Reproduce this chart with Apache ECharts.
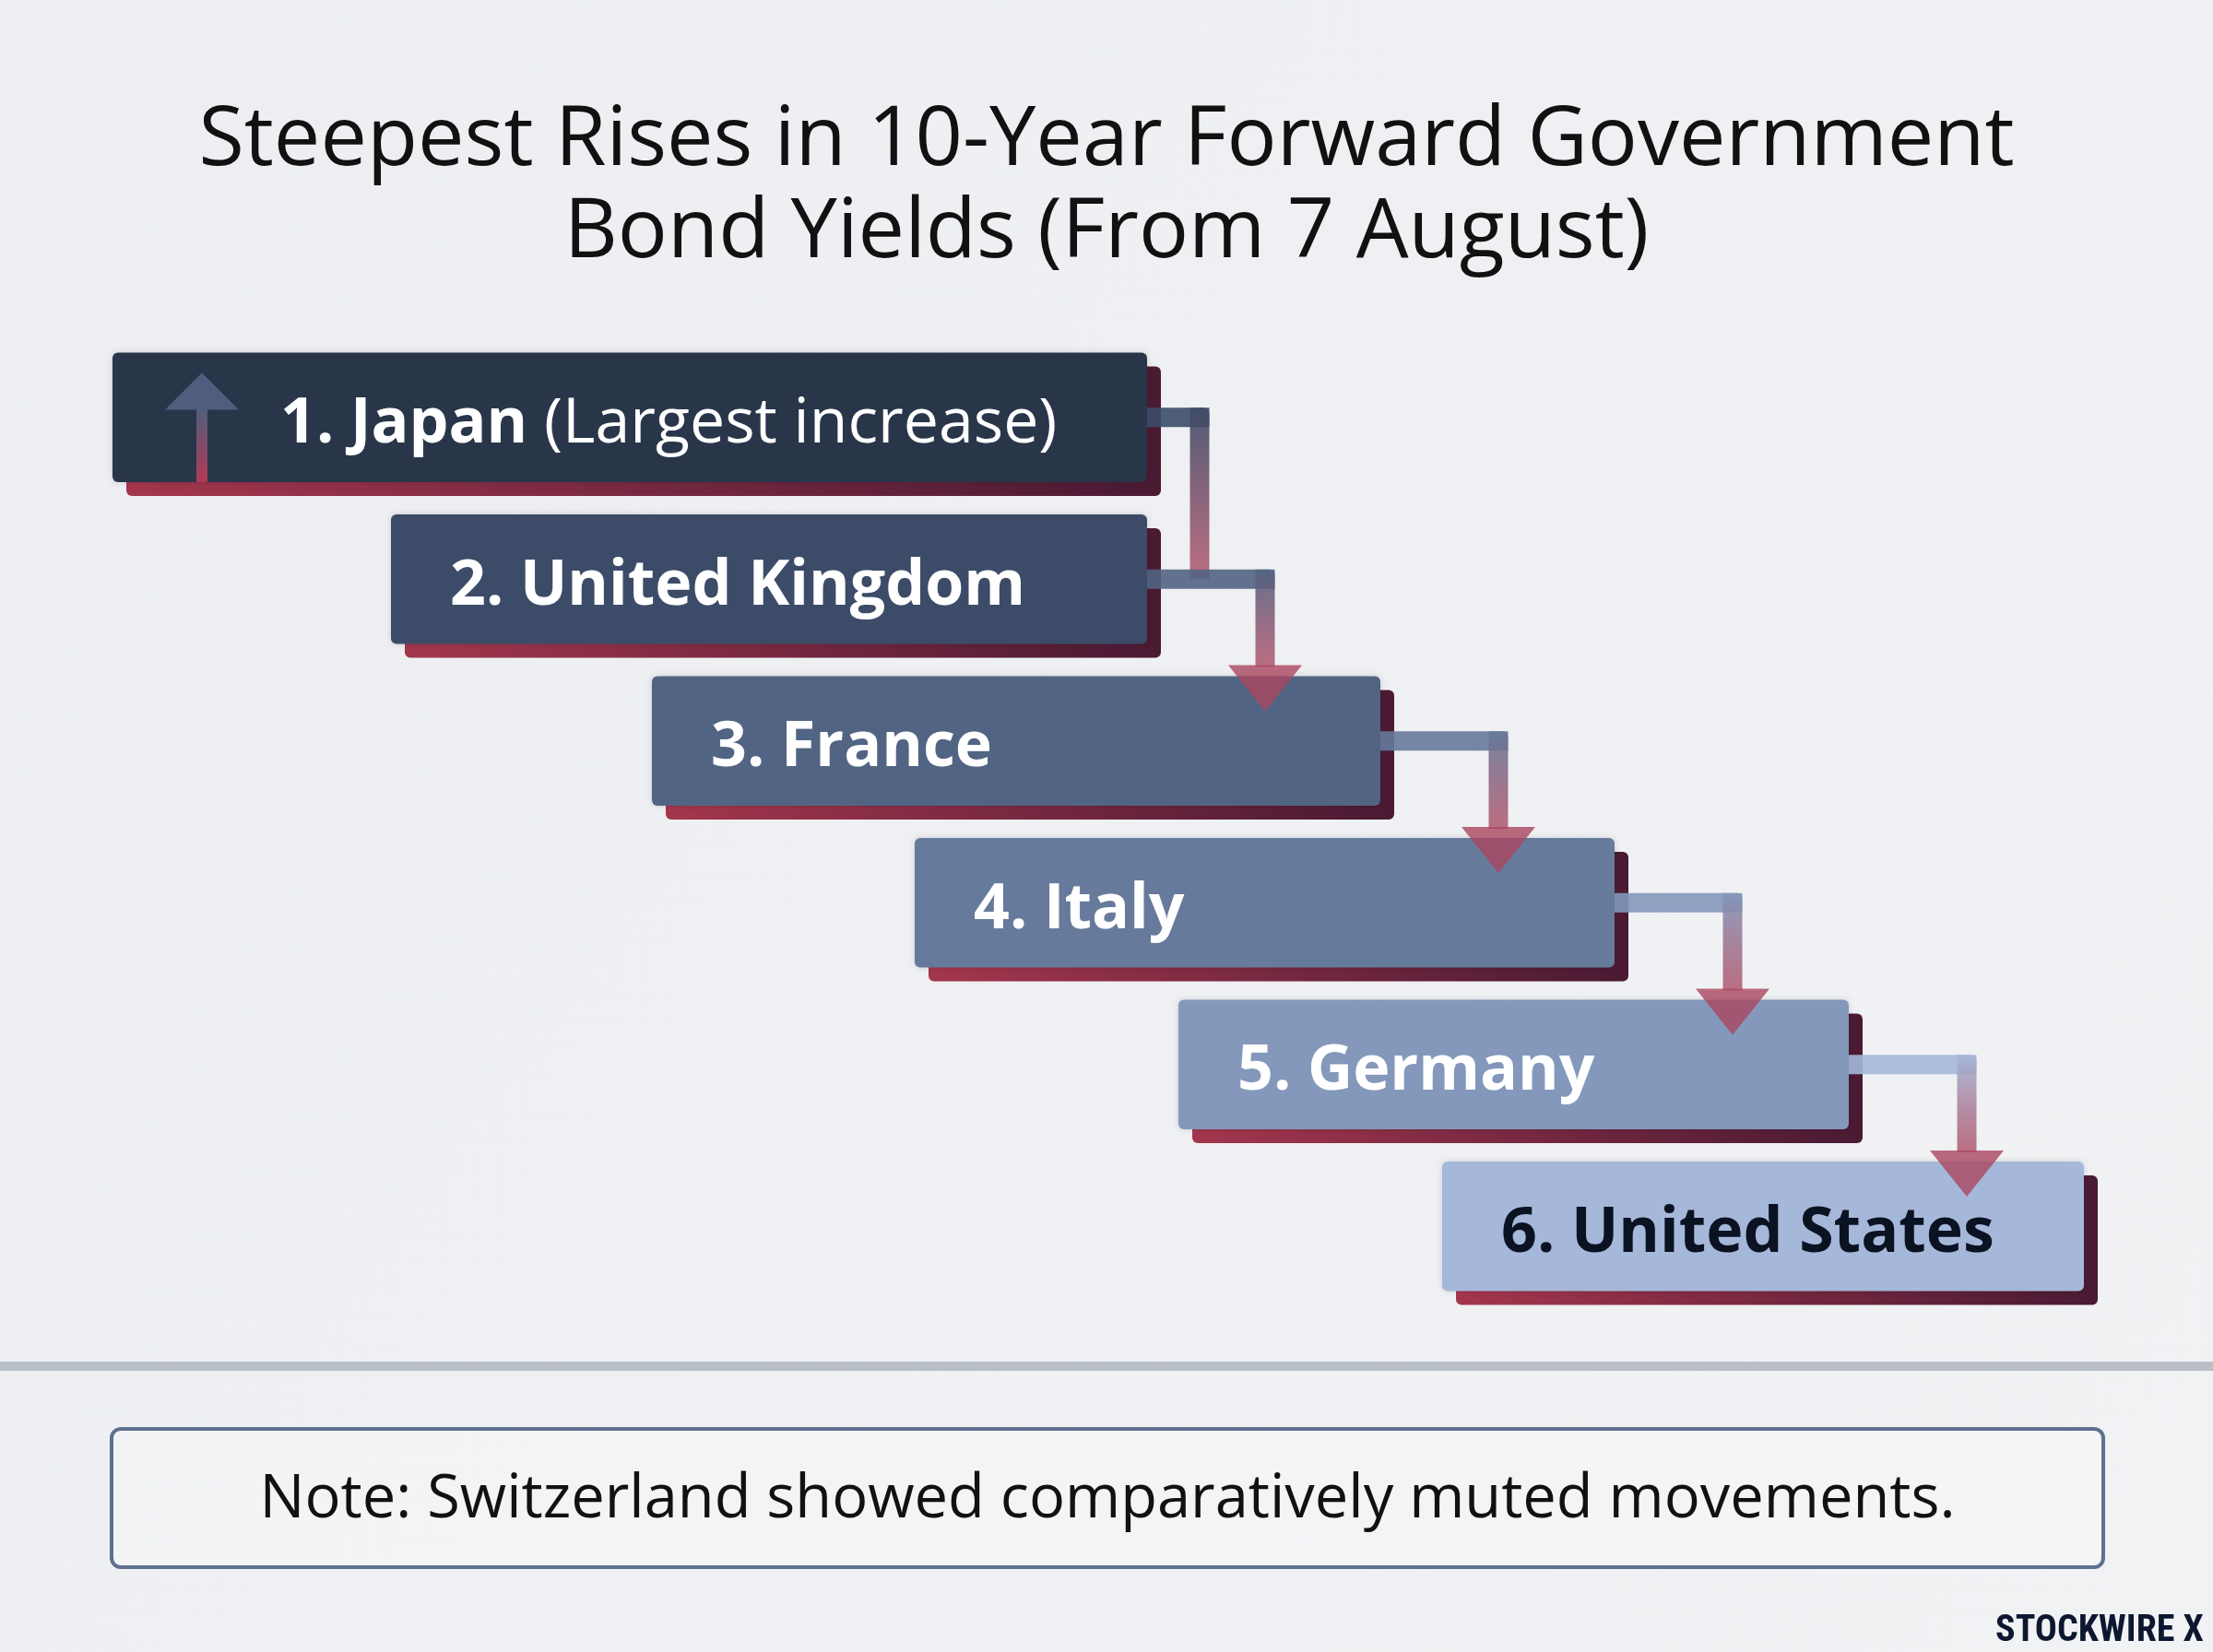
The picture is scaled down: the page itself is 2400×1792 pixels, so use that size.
<!DOCTYPE html>
<html><head><meta charset="utf-8">
<script src="https://cdn.jsdelivr.net/npm/echarts@6/dist/echarts.min.js"></script>
<style>html,body{margin:0;padding:0;background:#eef0f3}#c{width:2400px;height:1792px}</style>
</head><body><div id="c"></div>
<script>
const categories = ['1. Japan', '2. United Kingdom', '3. France', '4. Italy', '5. Germany', '6. United States'];
const suffixes = [' (Largest increase)', '', '', '', '', ''];
const barStart = [122, 424, 707, 992, 1278, 1564];
const barEnd = [1244, 1244, 1497, 1751, 2005, 2260];
const barColors = ['#29364a', '#3c4c68', '#526483', '#667a9b', '#8398bb', '#a5b8d9'];
const textColors = ['#fff', '#fff', '#fff', '#fff', '#fff', '#0b1222'];

const chart = echarts.init(document.getElementById('c'));
const FONT = '"Open Sans", "Noto Sans", sans-serif';
const data = categories.map((c, i) => [barStart[i], barEnd[i], i]);

function barItem(params, api) {
  const i = api.value(2);
  const p0 = api.coord([api.value(0), i]);
  const p1 = api.coord([api.value(1), i]);
  const band = api.size([0, 1])[1];
  const h = band * 0.8;
  const top = p0[1] - h / 2;
  const w = p1[0] - p0[0];
  const off = 15;
  const children = [
    { type: 'rect', shape: { x: p0[0] + off, y: top + off, width: w, height: h, r: 6 },
      style: { fill: new echarts.graphic.LinearGradient(0, 0, 1, 0, [{ offset: 0, color: '#a3364d' }, { offset: 1, color: '#4a1a33' }]) } },
    { type: 'rect', shape: { x: p0[0], y: top, width: w, height: h, r: 6 },
      style: { fill: barColors[i], shadowBlur: 6, shadowColor: 'rgba(0,0,0,0.15)' } },
  ];
  let tx = p0[0] + 64;
  if (i === 0) {
    tx = p0[0] + 182;
    const ax = p0[0] + 97;
    children.push({ type: 'rect', shape: { x: ax - 6, y: top + 60, width: 12, height: h - 60 },
      style: { fill: new echarts.graphic.LinearGradient(0, 0, 0, 1, [{ offset: 0, color: '#4f5e7e' }, { offset: 1, color: '#b03a55' }]) } });
    children.push({ type: 'polygon', shape: { points: [[ax, top + 22], [ax - 40, top + 62], [ax + 40, top + 62]] },
      style: { fill: '#4f5e7e' } });
  }
  children.push({ type: 'text', x: tx, y: p0[1] + 8,
    style: { text: '{b|' + categories[i] + '}{n|' + suffixes[i] + '}', verticalAlign: 'middle',
      rich: { b: { fontFamily: FONT, fontWeight: 'bold', fontSize: 68, fill: textColors[i] },
              n: { fontFamily: FONT, fontWeight: 'normal', fontSize: 68, fill: textColors[i] } } } });
  return { type: 'group', children };
}

function connItem(params, api) {
  const i = api.value(2);
  if (i >= categories.length - 1) return { type: 'group', children: [] };
  const band = api.size([0, 1])[1];
  const h = band * 0.8;
  const p1 = api.coord([api.value(1), i]);
  const nEnd = api.coord([barEnd[i + 1], i + 1]);
  const lw = 21;
  const sameEnd = nEnd[0] <= p1[0] + 1;
  const vx = sameEnd ? p1[0] + 57 : p1[0] + 128;
  const yEnd = sameEnd ? nEnd[1] : nEnd[1] - h / 2 + 20;
  const col = barColors[Math.min(i + 1, 5)];
  const grad = new echarts.graphic.LinearGradient(0, 0, 0, 1, [{ offset: 0, color: col }, { offset: 1, color: 'rgba(170,70,95,0.85)' }]);
  const y0 = p1[1] - lw / 2;
  const ch = [
    { type: 'rect', shape: { x: p1[0], y: y0, width: vx - p1[0] + lw / 2, height: lw, r: [0, 6, 0, 0] }, style: { fill: col, opacity: 0.9 } },
    { type: 'rect', shape: { x: vx - lw / 2, y: y0, width: lw, height: yEnd - y0 - (sameEnd ? 0 : 30) }, style: { fill: grad, opacity: 0.9 } },
  ];
  if (!sameEnd) {
    ch.push({ type: 'polygon', shape: { points: [[vx - 40, yEnd - 32], [vx + 40, yEnd - 32], [vx, yEnd + 18]] },
      style: { fill: 'rgba(170,70,95,0.8)' } });
  }
  return { type: 'group', children: ch };
}

chart.setOption({
  backgroundColor: new echarts.graphic.LinearGradient(0, 0, 1, 1, [{ offset: 0, color: '#eceef1' }, { offset: 1, color: '#f1f2f4' }]),
  animation: false,
  title: { text: 'Steepest Rises in 10-Year Forward Government\nBond Yields (From 7 August)', left: 'center', top: 98,
    textStyle: { fontFamily: FONT, fontWeight: 'normal', fontSize: 90, lineHeight: 100, color: '#111' } },
  grid: { left: 0, right: 0, top: 365, bottom: 374 },
  xAxis: { type: 'value', min: 0, max: 2400, show: false },
  yAxis: { type: 'category', data: categories, inverse: true, show: false },
  series: [
    { type: 'custom', renderItem: barItem, data, z: 2 },
    { type: 'custom', renderItem: connItem, data, z: 3 }
  ],
  graphic: [
    { type: 'rect', shape: { x: 0, y: 1477, width: 2400, height: 10 }, style: { fill: '#b9bfc7' } },
    { type: 'rect', shape: { x: 121, y: 1550, width: 2160, height: 150, r: 10 }, style: { fill: 'rgba(255,255,255,0.25)', stroke: '#5f7090', lineWidth: 4 } },
    { type: 'text', x: 1201, y: 1627, style: { text: 'Note: Switzerland showed comparatively muted movements.', fontFamily: FONT, fontSize: 65, fill: '#111', align: 'center', verticalAlign: 'middle' } },
    { type: 'text', x: 2390, y: 1770, style: { text: 'STOCKWIRE X', fontFamily: '"Roboto Condensed", Roboto, sans-serif', fontWeight: 'bold', fontSize: 40, fill: '#0d1730', align: 'right', verticalAlign: 'middle' } }
  ]
});
</script></body></html>
